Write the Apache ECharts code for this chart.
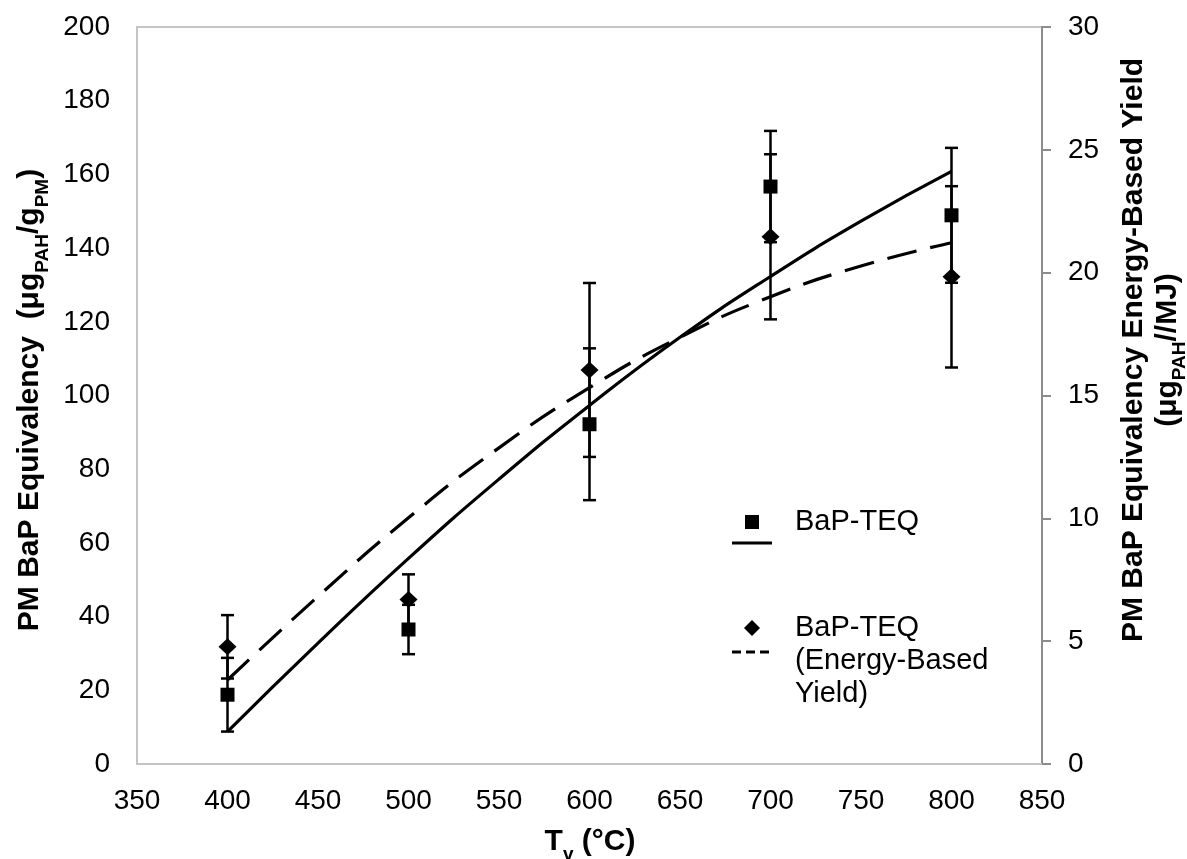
<!DOCTYPE html>
<html>
<head>
<meta charset="utf-8">
<script src="https://cdn.jsdelivr.net/npm/echarts@6/dist/echarts.min.js"></script>
<style>
  html, body { margin: 0; padding: 0; background: #fff; }
  #chart { width: 1187px; height: 859px; }
</style>
</head>
<body>
<div id="chart"></div>
<script>
// Measured vaporization temperatures (°C)
const temps = [400, 500, 600, 700, 800];
// PM BaP-TEQ (µg PAH / g PM) with ± error
const teqMean = [18.8, 36.5, 92.2, 156.7, 148.9];
const teqErr = [10.0, 6.7, 20.6, 15.1, 18.3];
// Energy-based BaP-TEQ yield (µg PAH / MJ) with ± error
const yieldMean = [4.77, 6.70, 16.04, 21.46, 19.83];
const yieldErr = [1.29, 1.02, 3.54, 3.36, 3.69];
// Trend curves sampled along temperature
const fitT = [400, 450, 500, 550, 600, 650, 700, 750, 800];
const teqFit = [8.8, 32.8, 55.8, 77.3, 97.3, 115.8, 132.3, 147.3, 160.8];
const yieldFit = [3.42, 6.82, 10.02, 12.87, 15.32, 17.37, 19.02, 20.27, 21.22];

const FONT = '"Liberation Sans", Arial, sans-serif';

function pairs(xs, ys) { return xs.map((x, i) => [x, ys[i]]); }
function triples(xs, ys, es) { return xs.map((x, i) => [x, ys[i], es[i]]); }

function errorBars(params, api) {
  const x = api.value(0), y = api.value(1), e = api.value(2);
  const top = api.coord([x, y + e]);
  const bot = api.coord([x, y - e]);
  const half = 6.5;
  const st = { stroke: '#000', lineWidth: 2.5 };
  return {
    type: 'group',
    children: [
      { type: 'line', shape: { x1: top[0], y1: top[1], x2: bot[0], y2: bot[1] }, style: st },
      { type: 'line', shape: { x1: top[0] - half, y1: top[1], x2: top[0] + half, y2: top[1] }, style: st },
      { type: 'line', shape: { x1: bot[0] - half, y1: bot[1], x2: bot[0] + half, y2: bot[1] }, style: st }
    ]
  };
}

const chart = echarts.init(document.getElementById('chart'), null, { renderer: 'canvas' });

const titleRich = {
  b: { fontFamily: FONT, fontSize: 30, fontWeight: 'bold', color: '#000' },
  s: { fontFamily: FONT, fontSize: 19, fontWeight: 'bold', color: '#000', verticalAlign: 'bottom', padding: [0, 0, -7, 0] }
};

chart.setOption({
  animation: false,
  backgroundColor: '#fff',
  grid: {
    left: 137, right: 145, top: 27, bottom: 95,
    show: true, borderColor: '#c4c4c4', borderWidth: 2, backgroundColor: 'transparent'
  },
  xAxis: {
    type: 'value', min: 350, max: 850, interval: 50,
    axisLine: { show: true, lineStyle: { color: '#c4c4c4', width: 2 } },
    axisTick: { show: false },
    splitLine: { show: false },
    axisLabel: { color: '#000', fontFamily: FONT, fontSize: 28, margin: 23 }
  },
  yAxis: [
    {
      type: 'value', min: 0, max: 200, interval: 20, position: 'left',
      axisLine: { show: true, lineStyle: { color: '#c4c4c4', width: 2 } },
      axisTick: { show: false },
      splitLine: { show: false },
      axisLabel: { color: '#000', fontFamily: FONT, fontSize: 28, margin: 27 }
    },
    {
      type: 'value', min: 0, max: 30, interval: 5, position: 'right',
      axisLine: { show: true, lineStyle: { color: '#8c8c8c', width: 2 } },
      axisTick: { show: true, inside: false, length: 9, lineStyle: { color: '#8c8c8c', width: 2 } },
      splitLine: { show: false },
      axisLabel: { color: '#000', fontFamily: FONT, fontSize: 28, margin: 26 }
    }
  ],
  series: [
    {
      name: 'BaP-TEQ trend', type: 'line', yAxisIndex: 0, smooth: 0.5,
      data: pairs(fitT, teqFit), showSymbol: false, symbol: 'none',
      lineStyle: { color: '#000', width: 3.2 }, z: 3
    },
    {
      name: 'Energy-based trend', type: 'line', yAxisIndex: 1, smooth: 0.5,
      data: pairs(fitT, yieldFit), showSymbol: false, symbol: 'none',
      lineStyle: { color: '#000', width: 3.2, type: [30, 14] }, z: 3
    },
    {
      name: 'BaP-TEQ error', type: 'custom', yAxisIndex: 0,
      data: triples(temps, teqMean, teqErr), renderItem: errorBars, z: 4
    },
    {
      name: 'Energy-based error', type: 'custom', yAxisIndex: 1,
      data: triples(temps, yieldMean, yieldErr), renderItem: errorBars, z: 4
    },
    {
      name: 'BaP-TEQ', type: 'scatter', yAxisIndex: 0,
      data: pairs(temps, teqMean), symbol: 'rect', symbolSize: 14,
      itemStyle: { color: '#000', opacity: 1 }, z: 5
    },
    {
      name: 'BaP-TEQ (Energy-Based Yield)', type: 'scatter', yAxisIndex: 1,
      data: pairs(temps, yieldMean), symbol: 'diamond', symbolSize: [18, 17],
      itemStyle: { color: '#000', opacity: 1 }, z: 5
    }
  ],
  graphic: [
    // Axis titles
    {
      type: 'text', x: 30, y: 400, rotation: Math.PI / 2,
      style: {
        text: '{b|PM BaP Equivalency  (μg}{s|PAH}{b|/g}{s|PM}{b|)}',
        rich: titleRich, align: 'center', verticalAlign: 'middle'
      }
    },
    {
      type: 'text', x: 1151, y: 350, rotation: Math.PI / 2,
      style: {
        text: '{b|PM BaP Equivalency Energy-Based Yield}\n{b|(μg}{s|PAH}{b|//MJ)}',
        rich: {
          b: { fontFamily: FONT, fontSize: 30, fontWeight: 'bold', color: '#000', lineHeight: 34 },
          s: { fontFamily: FONT, fontSize: 19, fontWeight: 'bold', color: '#000', verticalAlign: 'bottom', lineHeight: 34, padding: [0, 0, -4, 0] }
        },
        align: 'center', verticalAlign: 'middle'
      }
    },
    {
      type: 'text', x: 590, y: 842,
      style: {
        text: '{b|T}{s|v}{b| (°C)}',
        rich: titleRich, align: 'center', verticalAlign: 'middle'
      }
    },
    // Legend
    { type: 'rect', shape: { x: 745, y: 515, width: 14, height: 14 }, style: { fill: '#000' } },
    { type: 'line', shape: { x1: 732, y1: 543, x2: 772, y2: 543 }, style: { stroke: '#000', lineWidth: 3 } },
    {
      type: 'text', x: 795, y: 522,
      style: { text: 'BaP-TEQ', fontFamily: FONT, fontSize: 29, fill: '#000', verticalAlign: 'middle' }
    },
    { type: 'polygon', shape: { points: [[752, 620], [760, 628], [752, 636], [744, 628]] }, style: { fill: '#000' } },
    { type: 'line', shape: { x1: 732, y1: 652, x2: 772, y2: 652 }, style: { stroke: '#000', lineWidth: 3, lineDash: [9, 5] } },
    {
      type: 'text', x: 795, y: 611,
      style: { text: 'BaP-TEQ\n(Energy-Based\nYield)', fontFamily: FONT, fontSize: 29, lineHeight: 33, fill: '#000', verticalAlign: 'top' }
    }
  ]
});
</script>
</body>
</html>
